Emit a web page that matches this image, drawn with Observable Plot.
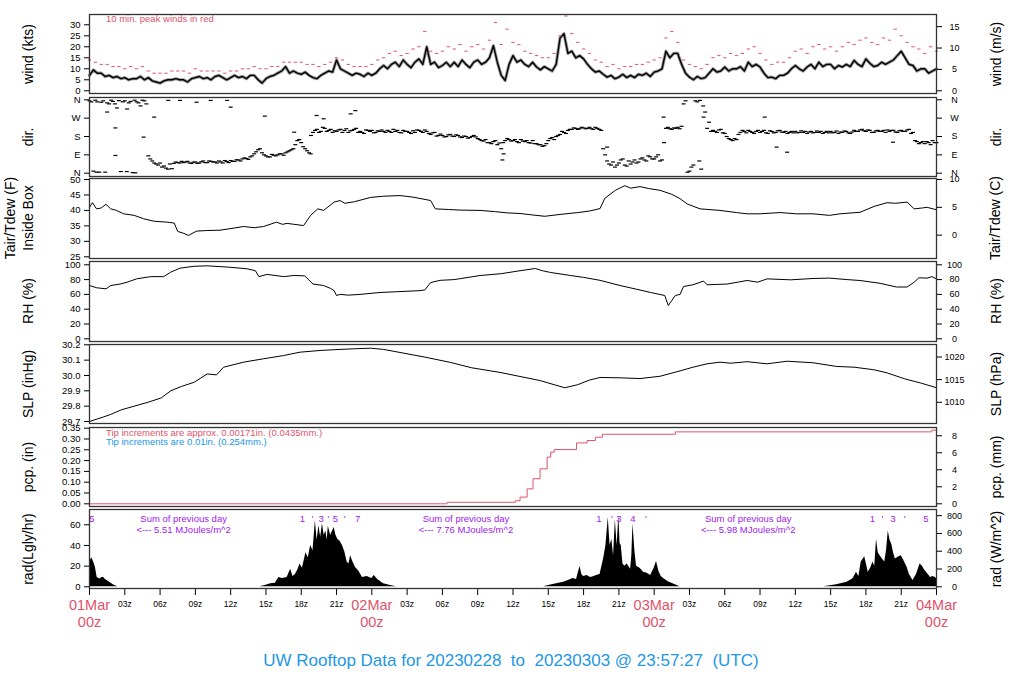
<!DOCTYPE html>
<html><head><meta charset="utf-8">
<script src="https://cdn.jsdelivr.net/npm/d3@7"></script>
<script src="https://cdn.jsdelivr.net/npm/@observablehq/plot@0.6"></script>
<style>
body{margin:0;background:#fff;}
#wrap{position:relative;width:1024px;height:700px;font-family:"Liberation Sans",Arial,Helvetica,sans-serif;overflow:hidden;background:#fff}
.lbl{position:absolute;white-space:pre;line-height:1;}
.rot{transform:translate(-50%,-50%) rotate(-90deg);}
</style></head><body><div id="wrap"></div>
<script>
// ---------------- DATA ----------------
// wind speed (kts), every 20 minutes from 01Mar 00z
const windKts = [
 7,9.5,8, 8,6.5,7, 6,6.5,5.5, 6,5,5.5, 5.5,6.5,5, 6,4.5,4, 3.5,4.5,5, 5,5.5,5, 5,4,5.5, 6,6.5,5.5,
 6,5,6.5, 7,6,5, 6,7,6, 6.5,5.5,7, 7,5,3.5, 5.5,6.5,7, 8,9,11, 8,9,8, 7.5,8.5,7, 6,5.5,7,
 8,9,8.5, 14,10,9, 8,7,8, 7.5,6.5,8, 7,8,10, 11.5,10,12, 13,11,14, 12,10.5,13, 14.5,12,20, 12,13,10.5,
 11.5,13,11, 13,11,14, 12,10.5,13, 14,12,13, 15,20.5,13, 7,4.7,12, 16,13,14, 12,11,13, 10.8,9.5,11, 10,9,12,
 24,26,17, 18,15,16, 14.5,12,10, 8.5,9,7.5, 6.2,7,5.5, 6.2,7.5,6, 7,6,7.5, 7,8,6.5, 8.5,9,10, 18,15,17,
 17,12,8, 6.2,5,6.5, 5.5,6,8, 10,8.5,9, 10.8,9,10, 10,11,9, 13,11,12, 10.8,8,6, 6.2,5.5,7, 7,8,10,
 11.5,10,9, 10.8,12,10, 13,11,12, 12,10,11.5, 10.8,12,11, 13.8,12,11, 14.5,12.5,11, 11.5,13,12, 13,14,16, 18,15,12,
 11.5,9,10, 10,8,9, 10];
// 10 min peak winds (kts), every 30 minutes
const gustKts = [
 14,13, 12,12, 11,11, 10,11, 10,11, 9,8, 8,8, 9,9, 9,8, 10,9, 9,9, 9,8, 9,9, 10,10, 11,10, 10,11, 11,13, 13,13,
 13,12, 12,11, 12,13, 15,14, 12,11, 11,11, 12,14, 15,17, 18,16, 17,19, 20,27, 18,17, 18,20, 19,21, 18,20, 21,19,
 23,31, 21,28, 22,21, 18,17, 16,15, 15,17, 25,34, 26,22, 19,17, 14,13, 11,12, 10,11, 11,12, 12,13, 14,15, 24,27,
 22,14, 12,11, 10,12, 15,16, 15,17, 16,17, 19,20, 17,14, 12,13, 13,15, 18,19, 17,20, 21,19, 20,18, 20,22, 21,23,
 24,22, 21,24, 23,28, 25,22, 20,19, 17,20, 18];
// wind direction (deg), every 20 minutes
const dirDeg = [
 355,10,350, 348,5,340, 352,320,8, 355,345,3, 350,330,355, 85,60,45, 50,35,20, 22,55,50, 52,58,48, 55,50,60,
 52,58,55, 60,50,57, 62,58,65, 70,72,80, 95,115,100, 85,80,88, 90,95,100, 110,120,160, 150,120,100, 200,215,205,
 220,210,200, 205,215,210, 200,210,220, 205,195,210, 210,200,205, 205,210,200, 205,200,210, 205,195,200, 210,200,205, 190,200,185,
 185,180,190, 180,185,175, 180,175,185, 170,160,165, 150,155,140, 120,160,165, 160,155,165, 155,150,160, 145,140,135, 160,175,180,
 190,200,210, 215,220,218, 222,220,218, 225,215,120, 60,40,30, 50,70,35, 45,65,55, 75,60,80, 70,90,65, 220,218,222,
 225,230,355, 10,40,350, 20,300,250, 210,200,215, 195,170,160, 165,200,205, 210,200,205, 200,210,195, 205,200,210, 200,195,205,
 205,200,200, 195,205,200, 200,195,205, 205,200,195, 200,205,195, 210,205,215, 205,210,200, 210,205,200, 205,210,200, 210,205,215,
 200,155,150, 145,150,160, 150];
// second set of direction readings, 10 minutes after each of the above
const dirDegB = [
 350,358,5, 355,345,358, 340,356,350, 8,352,358, 345,358,340, 70,50,40, 30,25,45, 48,52,58, 55,50,54, 48,56,52,
 60,55,50, 55,62,52, 58,66,60, 75,68,85, 105,120,90, 80,92,85, 95,88,105, 115,140,165, 130,110,185, 210,200,225,
 205,215,208, 212,200,218, 208,215,200, 200,212,205, 198,208,212, 200,205,215, 210,198,205, 200,208,212, 205,212,195, 198,182,192,
 178,188,182, 188,178,182, 172,180,178, 165,158,150, 145,160,148, 150,170,158, 165,150,158, 160,148,145, 140,132,145, 170,165,185,
 205,195,215, 222,215,225, 218,225,215, 220,210,90, 45,55,40, 65,40,60, 55,50,70, 65,85,70, 80,60,150, 225,215,220,
 218,340,5, 30,355,60, 330,220,205, 205,212,198, 180,165,170, 190,210,198, 205,195,210, 205,198,208, 198,208,202, 205,200,198,
 198,208,205, 202,198,207, 205,200,198, 198,207,202, 207,198,202, 205,212,208, 212,200,207, 205,210,212, 210,202,208, 205,212,195,
 160,145,155, 155,140,150];
// scattered direction readings [hour, deg]
const dirScatter = [[2.2,222],[4.6,177],[6.7,357],[7.7,357],[9.1,348],[10.3,357],[11.7,357],[12,324],[14.9,280],[2.2,87],
 [5.5,275],[19.3,283],[19.9,267],[17.4,201],[18.8,95],[22.6,307],[22.2,291],[35.1,65],[35.2,95],[44,128],[48.8,275],
 [57.4,275],[58.4,128],[59.3,103],[68.3,152],[51.9,357],[52.2,275],[1.5,300],[3.2,315],[0.6,5],[3.9,2]];
// inside box temperature (F) [hour, value]
const tairF = [[0,41],[0.25,42.5],[0.6,40.5],[1,40.8],[1.4,42],[1.8,40.5],[2.3,40],[2.9,38.9],[3.8,38.4],[4.6,37.3],[5.5,36.5],
 [6.6,36.2],[7.2,35.9],[7.5,33.2],[8,32.6],[8.4,31.9],[9.1,33.3],[10,33.5],[11.1,33.6],[12.3,34.3],[13.1,34.8],[14,34.4],
 [14.8,34.8],[15.9,36.2],[16.4,35.5],[16.8,35.8],[17.4,35.5],[18.2,35.1],[18.8,38.4],[19.4,40.5],[19.9,40],[20.4,41.5],
 [20.8,42.7],[21.3,43.2],[21.7,42.3],[22.5,42.8],[23.9,44.2],[25,44.6],[26.4,44.8],[27.5,44.3],[29,43.2],[29.4,40.5],
 [30.5,40.3],[31.5,40.1],[33.2,40],[34.5,39.6],[35.5,39.2],[36.6,39],[37.5,38.6],[38.7,38.1],[40,38.7],[41.5,39.3],
 [42.5,39.8],[43.4,40.6],[43.8,43.9],[44.7,46.5],[45.5,48],[46,47.2],[46.8,47.7],[47.5,47.1],[48.5,46.5],[49.5,45.2],
 [50.2,43.8],[50.8,42.1],[51.9,40.5],[53.6,40],[55,39.3],[55.9,38.9],[57,38.9],[58.7,39.3],[60.1,38.9],[61.5,38.9],
 [62.9,38.4],[63.8,38.9],[65.5,39.4],[66.7,41.3],[67.8,42.5],[68.5,42.3],[69.5,42.7],[70.1,40.5],[70.8,40.8],[71.2,41],[72,40.2]];
// relative humidity (%) [hour, value]
const rhPct = [[0,72],[0.6,69],[1.4,67.5],[1.8,72],[2.6,74],[3.2,76.5],[4,81],[5.2,84],[6.3,84],[6.9,90],[7.7,95.5],[8.9,98],
 [10,98.6],[11.7,97],[13.4,94.6],[14.1,92],[14.4,84],[15.1,87],[16.5,84],[17.4,85.6],[18.3,85],[19,74],[19.9,72],[20.5,68],
 [20.8,65],[21,58.5],[21.3,60],[22,59],[23,60],[24.7,62.6],[26,63.5],[28,65],[28.5,66],[29,76],[29.8,79],[31,80],[33.2,85.5],
 [35,88],[36.6,92],[37.9,95],[38.5,92],[39.2,89.6],[40.9,85.5],[42,83],[43.4,79],[45.1,72],[46.5,67],[47.7,62.6],[48.9,58.5],
 [49.2,45],[49.8,58.5],[50.2,60],[50.5,70.7],[51.3,73],[52.2,78],[52.5,73],[54.2,74],[55.9,78.8],[56.8,76.5],[57.6,81],
 [59.6,79.7],[61.5,81.5],[62.9,82],[64.4,80],[65.5,78.8],[67.2,75],[68.6,70],[69.5,70],[70.1,76.5],[70.5,82.4],[71.2,82],[71.6,84],[72,81]];
// sea level pressure (inHg) [hour, value]
const slpInHg = [[0,29.70],[1.2,29.73],[1.8,29.746],[2.7,29.776],[3.8,29.80],[5,29.826],[6.1,29.854],[6.9,29.90],[7.8,29.928],
 [8.9,29.956],[10,30.01],[10.8,30.004],[11.4,30.054],[13.1,30.087],[14.8,30.109],[16.5,30.13],[17.9,30.152],[19.6,30.163],
 [21.3,30.17],[22.5,30.174],[23.9,30.178],[25,30.17],[26.4,30.15],[28.5,30.12],[30.7,30.085],[32.5,30.05],[34.9,30.02],
 [36.5,29.995],[38.3,29.967],[39.5,29.94],[40.4,29.92],[41.5,29.94],[42.5,29.97],[43.4,29.987],[45,29.985],[46.8,29.98],
 [48.5,29.995],[50.2,30.03],[51.3,30.054],[52.5,30.076],[53.6,30.087],[54.5,30.08],[55.9,30.09],[57.6,30.076],[59.3,30.093],
 [61.5,30.083],[63.5,30.059],[65,30.054],[66.7,30.037],[67.8,30.017],[69.3,29.978],[70.7,29.95],[72,29.92]];
// accumulated precipitation (in) [hour, value], step after
const pcpIn = [[0,0],[30.4,0.007],[36.2,0.014],[36.6,0.031],[37.2,0.069],[37.7,0.116],[38.3,0.162],[38.9,0.216],[39.2,0.239],
 [39.5,0.251],[41.4,0.282],[42.3,0.293],[43,0.308],[43.6,0.322],[49.8,0.333],[71.6,0.341],[72,0.341]];
// solar radiation (Langley/hr) [hour, value]
const radDay0 = [[0,27],[0.1,26],[0.2,28],[0.35,24],[0.5,19],[0.65,9],[0.9,7.5],[1.05,9],[1.2,9],[1.35,7],[1.5,6],[1.7,4.5],[1.9,3],[2.1,1.5],[2.3,0.5],[2.4,0]];
const radDay1 = [[14.5,0],[15,1.5],[15.4,3],[15.8,3.5],[16.1,9],[16.4,8],[16.8,9],[17.1,17],[17.3,10],[17.5,12],[17.7,16],[17.9,22],
 [18.1,18],[18.4,33],[18.6,28],[18.8,40],[19,35],[19.2,64],[19.35,45],[19.5,59],[19.65,48],[19.8,61],[19.95,50],[20.1,54],[20.2,45],
 [20.3,58.5],[20.5,50],[20.8,57.5],[20.95,50],[21.1,46],[21.3,44],[21.5,40],[21.7,34],[21.9,24],[22.05,22],[22.2,30],[22.4,24],
 [22.6,19],[22.9,15],[23.2,9],[23.6,10],[24,8],[24.2,11],[24.5,7],[25,3],[25.5,1.5],[26.1,0]];
const radDay2 = [[38.6,0],[39.3,2],[40.3,4.5],[40.7,6],[41.1,8],[41.4,7],[41.7,20],[41.85,12],[42,10],[42.3,11],[42.6,9],[42.9,10],
 [43.1,11],[43.4,12],[43.7,27],[43.9,40],[44.1,67],[44.25,40],[44.4,46],[44.55,30],[44.7,65],[44.85,40],[45,69],[45.1,42],[45.2,40],
 [45.35,22],[45.5,20],[45.7,22],[46,17],[46.1,30],[46.2,61],[46.35,36],[46.5,20],[46.8,18],[47.1,14],[47.4,13],[47.7,11],[48,18],
 [48.2,24.5],[48.4,15],[48.6,10],[48.8,8],[49.2,5],[49.6,3],[50.2,0]];
const radDay3 = [[62.4,0],[63.5,2],[64.4,4.5],[64.9,7.7],[65.2,14],[65.4,10],[65.6,24],[65.9,29],[66.2,14],[66.4,18],[66.6,24],
 [66.75,20],[66.9,46],[67.05,33],[67.2,30],[67.4,27],[67.6,24],[67.75,35],[67.9,54],[68.05,45],[68.2,41],[68.35,33],[68.5,27],
 [68.8,29],[69,30],[69.2,26],[69.5,19],[69.7,12],[70,6],[70.3,12],[70.6,22],[70.8,20],[71,16],[71.3,12],[71.5,9],[71.7,10],[71.9,9],[72,8]];
// annotations in the radiation panel
const sumHours = [8, 32, 56];
const sumTexts = ["<--- 5.51 MJoules/m^2", "<--- 7.76 MJoules/m^2", "<--- 5.98 MJoules/m^2"];
const radMarks = [[0.2,"5"],[18.1,"1"],[18.95,"'"],[19.7,"3"],[20.3,"'"],[20.9,"5"],[21.7,"'"],[22.8,"7"],
 [43.3,"1"],[44.4,"'"],[45,"3"],[46.2,"4"],[47.3,"'"],[66.55,"1"],[67.4,"'"],[68.3,"3"],[69.3,"'"],[71.1,"5"]];
// ticks
const windKtsTicks = [0,5,10,15,20,25,30];
const windMsTicks = [0,5,10,15];
const dirTicks = [0,90,180,270,360];
const dirLabels = ["N","E","S","W","N"];
const tairFTicks = [25,30,35,40,45,50];
const tairCTicks = [0,5,10];
const rhTicks = [0,20,40,60,80,100];
const slpTicks = [29.7,29.8,29.9,30.0,30.1,30.2];
const hpaTicks = [1010,1015,1020];
const pcpTicks = [0,0.05,0.10,0.15,0.20,0.25,0.30,0.35];
const mmTicks = [0,2,4,6,8];
const radTicks = [0,20,40,60];
const wm2Ticks = [0,200,400,600,800];
const timeTicks = [0,3,6,9,12,15,18,21,24,27,30,33,36,39,42,45,48,51,54,57,60,63,66,69,72];
const dayTicks = [0,24,48,72];
const dayNames = ["01Mar","02Mar","03Mar","04Mar"];

// ---------------- DRAW ----------------
const KT_PER_MS = 1.943844, HPA_PER_INHG = 33.8639, WM2_PER_LY = 11.622;
const RED = "#DF536B", BLUE = "#2297E6", PURPLE = "#A020F0";
const FONT = '"Liberation Sans",Arial,Helvetica,sans-serif';
const wrap = document.getElementById("wrap");
const X0 = 89, X1 = 936;

function panel(top, bottom, yDomain, marks, o) {
  const mt = 10, mb = o.mb ?? 10, h = bottom - top;
  const svg = Plot.plot({
    width: 1024, height: h + mt + mb,
    marginLeft: X0, marginRight: 1024 - X1, marginTop: mt, marginBottom: mb,
    x: {domain: [0, 72], axis: o.xaxis ? undefined : null},
    y: {domain: yDomain, axis: null},
    style: {fontFamily: FONT, overflow: "visible", background: "transparent", color: "#000"},
    marks: [
      ...marks,
      Plot.frame({stroke: "#333", strokeWidth: 1.3}),
      Plot.axisY(o.left, {anchor: "left", tickSize: 5, tickPadding: 4, tickFormat: o.leftFormat, fontSize: 9.5, label: null}),
      Plot.axisY(o.right, {anchor: "right", tickSize: 5, tickPadding: 13, textAnchor: "middle", tickFormat: o.rightFormat, fontSize: 9, label: null}),
      ...(o.extra || [])
    ]
  });
  svg.style.position = "absolute"; svg.style.left = "0px"; svg.style.top = (top - mt) + "px";
  wrap.appendChild(svg);
}

// wind
panel(14, 93, [-1.23, 34.68], [
  Plot.line(windKts, {x: (d, i) => i / 3, y: d => d, stroke: "#999", strokeWidth: 3.2}),
  Plot.line(windKts, {x: (d, i) => i / 3, y: d => d, stroke: "#000", strokeWidth: 1.4}),
  Plot.link(gustKts, {x1: (d, i) => i / 2 - 0.14, x2: (d, i) => i / 2 + 0.14, y1: d => d, y2: d => d, stroke: RED, strokeWidth: 1})
], {left: windKtsTicks, leftFormat: d => String(d), right: windMsTicks.map(v => v * KT_PER_MS), rightFormat: (d, i) => String(windMsTicks[i])});

// direction
panel(97, 176, [-16.2, 371.3], [
  Plot.link(dirDeg, {x1: (d, i) => i / 3 - 0.17, x2: (d, i) => i / 3 + 0.17, y1: d => d, y2: d => d, stroke: "#000", strokeWidth: 1.2}),
  Plot.link(dirDegB, {x1: (d, i) => i / 3 + 1 / 6 - 0.17, x2: (d, i) => i / 3 + 1 / 6 + 0.17, y1: d => d, y2: d => d, stroke: "#000", strokeWidth: 1.2}),
  Plot.link(dirScatter, {x1: d => d[0] - 0.17, x2: d => d[0] + 0.17, y1: d => d[1], y2: d => d[1], stroke: "#000", strokeWidth: 1.2})
], {left: dirTicks, leftFormat: (d, i) => dirLabels[i], right: dirTicks, rightFormat: (d, i) => dirLabels[i]});

// temperature
panel(178, 258, [24.45, 50.32], [
  Plot.line(tairF, {x: d => d[0], y: d => d[1], stroke: "#000", strokeWidth: 1})
], {left: tairFTicks, leftFormat: d => String(d), right: tairCTicks.map(c => c * 9 / 5 + 32), rightFormat: (d, i) => String(tairCTicks[i])});

// RH
panel(261, 341, [-3.65, 104.46], [
  Plot.line(rhPct, {x: d => d[0], y: d => d[1], stroke: "#000", strokeWidth: 1})
], {left: rhTicks, leftFormat: d => String(d), right: rhTicks, rightFormat: d => String(d)});

// SLP
panel(344, 423, [29.687, 30.202], [
  Plot.line(slpInHg, {x: d => d[0], y: d => d[1], stroke: "#000", strokeWidth: 1})
], {left: slpTicks, leftFormat: d => d.toFixed(1), right: hpaTicks.map(p => p / HPA_PER_INHG), rightFormat: (d, i) => String(hpaTicks[i])});

// pcp
panel(427, 506, [-0.0125, 0.3532], [
  Plot.line(pcpIn, {x: d => d[0], y: d => d[1], stroke: RED, strokeWidth: 1, curve: "step-after"})
], {left: pcpTicks, leftFormat: d => d.toFixed(2), right: mmTicks.map(m => m / 25.4), rightFormat: (d, i) => String(mmTicks[i])});

// radiation
const pad2 = n => String(n).padStart(2, "0");
panel(509, 588, [-1.65, 74.8], [
  ...[radDay0, radDay1, radDay2, radDay3].map(a => Plot.areaY(a, {x: d => d[0], y: d => d[1], fill: "#000"})),
  Plot.text(sumHours, {x: d => d, text: () => "Sum of previous day", frameAnchor: "top", dy: 6, fill: PURPLE, fontSize: 9.5}),
  Plot.text(sumHours, {x: d => d, text: (d, i) => sumTexts[i], frameAnchor: "top", dy: 16.5, fill: PURPLE, fontSize: 9.5}),
  Plot.text(radMarks, {x: d => d[0], text: d => d[1], frameAnchor: "top", dy: 5.5, fill: PURPLE, fontSize: 9.5}),
  Plot.axisX(timeTicks, {anchor: "bottom", tickSize: 7, tickPadding: 5, fontSize: 8.5, label: null,
    tickFormat: d => d % 24 ? pad2(d % 24) + "z" : ""}),
  Plot.text(dayTicks, {x: d => d, text: (d, i) => dayNames[i], frameAnchor: "bottom", dy: 21.5, fill: RED, fontSize: 14.5}),
  Plot.text(dayTicks, {x: d => d, text: () => "00z", frameAnchor: "bottom", dy: 38.5, fill: RED, fontSize: 14.5})
], {mb: 60, xaxis: true, left: radTicks, leftFormat: d => String(d), right: wm2Ticks.map(w => w / WM2_PER_LY), rightFormat: (d, i) => String(wm2Ticks[i])});

// ---------------- TEXT ----------------
function label(text, x, y, size, color, rot, anchor) {
  const d = document.createElement("div");
  d.className = "lbl" + (rot ? " rot" : "");
  d.textContent = text;
  d.style.left = x + "px"; d.style.top = y + "px";
  d.style.fontSize = size + "px"; d.style.color = color || "#000";
  if (!rot) d.style.transform = anchor === "middle" ? "translate(-50%,-50%)" : "translate(0,-50%)";
  wrap.appendChild(d);
}
const leftTitles = [["wind (kts)", 27.5, 53.5], ["dir.", 27.5, 136.5], ["Inside Box", 27.5, 218], ["Tair/Tdew (F)", 10, 218],
  ["RH (%)", 27.5, 301], ["SLP (inHg)", 27.5, 383.5], ["pcp. (in)", 27.5, 466.5], ["rad(Lgly/hr)", 27.5, 548.5]];
const rightTitles = [["wind (m/s)", 996, 53.5], ["dir.", 996, 136.5], ["Tair/Tdew (C)", 995, 218], ["RH (%)", 996, 301],
  ["SLP (hPa)", 996, 383.5], ["pcp. (mm)", 996, 466.5], ["rad (W/m^2)", 996, 548.5]];
for (const [t, x, y] of leftTitles) label(t, x, y, 14, "#000", true);
for (const [t, x, y] of rightTitles) label(t, x, y, 14, "#000", true);
label("10 min. peak winds in red", 106, 19, 9.5, RED);
label("Tip increments are approx. 0.00171in. (0.0435mm.)", 106, 432.7, 9.5, RED);
label("Tip increments are 0.01in. (0.254mm.)", 106, 441.7, 9.5, BLUE);
label("UW Rooftop Data for 20230228  to  20230303 @ 23:57:27  (UTC)", 511, 660, 17, BLUE, false, "middle");
</script></body></html>
